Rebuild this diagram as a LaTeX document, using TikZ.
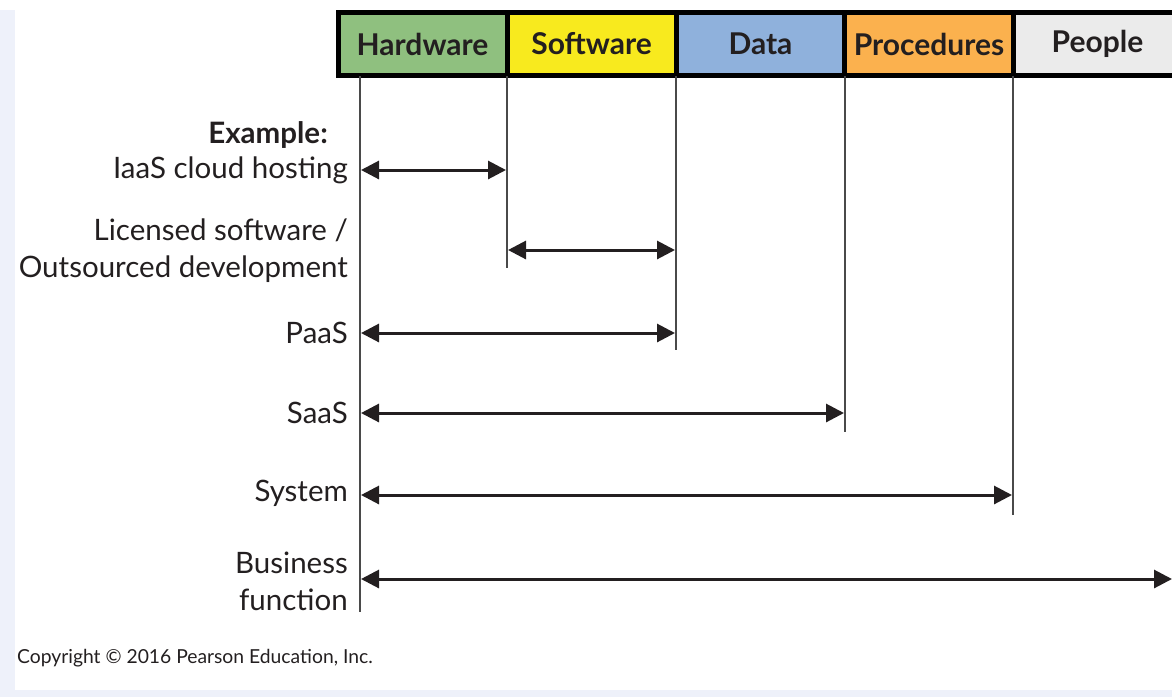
\documentclass[tikz,border=0pt]{standalone}
\usepackage{fontspec}
\setmainfont{Lato}
\usetikzlibrary{arrows.meta}

\definecolor{hwgreen}{HTML}{8FC07F}
\definecolor{swyellow}{HTML}{F8EA1E}
\definecolor{datablue}{HTML}{8FB1DC}
\definecolor{procorange}{HTML}{FBB14E}
\definecolor{pplgray}{HTML}{EBEBEB}
\definecolor{framebg}{HTML}{EEF1FA}
\definecolor{inkgray}{HTML}{231F20}
\definecolor{linegray}{HTML}{4A4A4A}

\tikzset{
  cell/.style={draw=black, line width=5pt, minimum width=169pt, minimum height=63pt,
    inner sep=0pt, font=\fontsize{30}{34}\selectfont\bfseries, text=inkgray},
  rule/.style={linegray, line width=1.8pt},
  span/.style={inkgray, line width=3pt, {Triangle[length=18pt,width=18pt]}-{Triangle[length=18pt,width=18pt]}},
  lbl/.style={anchor=east, align=right, inner sep=0pt, text=inkgray,
    font=\fontsize{29.5}{37}\selectfont}
}

\begin{document}
\begin{tikzpicture}[x=1pt, y=-1pt]
    \useasboundingbox (0, 0) rectangle (1172, 697);

    % frame
    \fill [framebg] (0, 10) rectangle (15, 697);
    \fill [framebg] (0, 690) rectangle (1172, 697);

    % header
    \node [cell, fill=hwgreen] (hw) at (422.5, 44) {Hardware};
    \node [cell, fill=swyellow] (sw) at (591.5, 44) {Software};
    \node [cell, fill=datablue] (data) at (760.5, 44) {Data};
    \node [cell, fill=procorange] (proc) at (929, 44) {Procedures};
    \node [cell, fill=pplgray] (ppl) at (1097.5, 44) {People};

    \coordinate (T0) at (360, 76);
    \coordinate (T1) at (507, 76);
    \coordinate (T2) at (676, 76);
    \coordinate (T3) at (845, 76);
    \coordinate (T4) at (1013, 76);

    \coordinate (B0) at (360, 612);
    \coordinate (B1) at (507, 268);
    \coordinate (B2) at (676, 350);
    \coordinate (B3) at (845, 432);
    \coordinate (B4) at (1013, 515);

    \draw [rule] (T0) -- (B0);
    \draw [rule] (T1) -- (B1);
    \draw [rule] (T2) -- (B2);
    \draw [rule] (T3) -- (B3);
    \draw [rule] (T4) -- (B4);

    % arrows
    \coordinate (iaasL) at (361, 170);
    \coordinate (iaasR) at (506, 170);
    \coordinate (licL) at (508, 250);
    \coordinate (licR) at (675, 250);
    \coordinate (paasL) at (361, 333);
    \coordinate (paasR) at (675, 333);
    \coordinate (saasL) at (361, 413);
    \coordinate (saasR) at (844, 413);
    \coordinate (sysL) at (361, 495);
    \coordinate (sysR) at (1012, 495);
    \coordinate (bizL) at (361, 579);
    \coordinate (bizR) at (1172, 579);

    \draw [span] (iaasL) -- (iaasR);
    \draw [span] (licL) -- (licR);
    \draw [span] (paasL) -- (paasR);
    \draw [span] (saasL) -- (saasR);
    \draw [span] (sysL) -- (sysR);
    \draw [span] (bizL) -- (bizR);

    % labels
    \node [lbl] (iaas) at (348, 170) {IaaS cloud hosting};
    \node [lbl, font=\fontsize{29.5}{37}\selectfont\bfseries] (ex) at (328, 135) {Example:};
    \node [lbl] (lic) at (348, 251) {Licensed software /\\Outsourced development};
    \node [lbl] (paas) at (348, 333) {PaaS};
    \node [lbl] (saas) at (348, 413) {SaaS};
    \node [lbl] (sys) at (348, 493) {System};
    \node [lbl] (biz) at (348, 581) {Business\\function};

    \node [anchor=west, inner sep=0pt, text=inkgray, font=\fontsize{19.3}{22}\selectfont]
      (copy) at (17, 658) {Copyright \textcopyright{} 2016 Pearson Education, Inc.};
  \end{tikzpicture}
\end{document}
